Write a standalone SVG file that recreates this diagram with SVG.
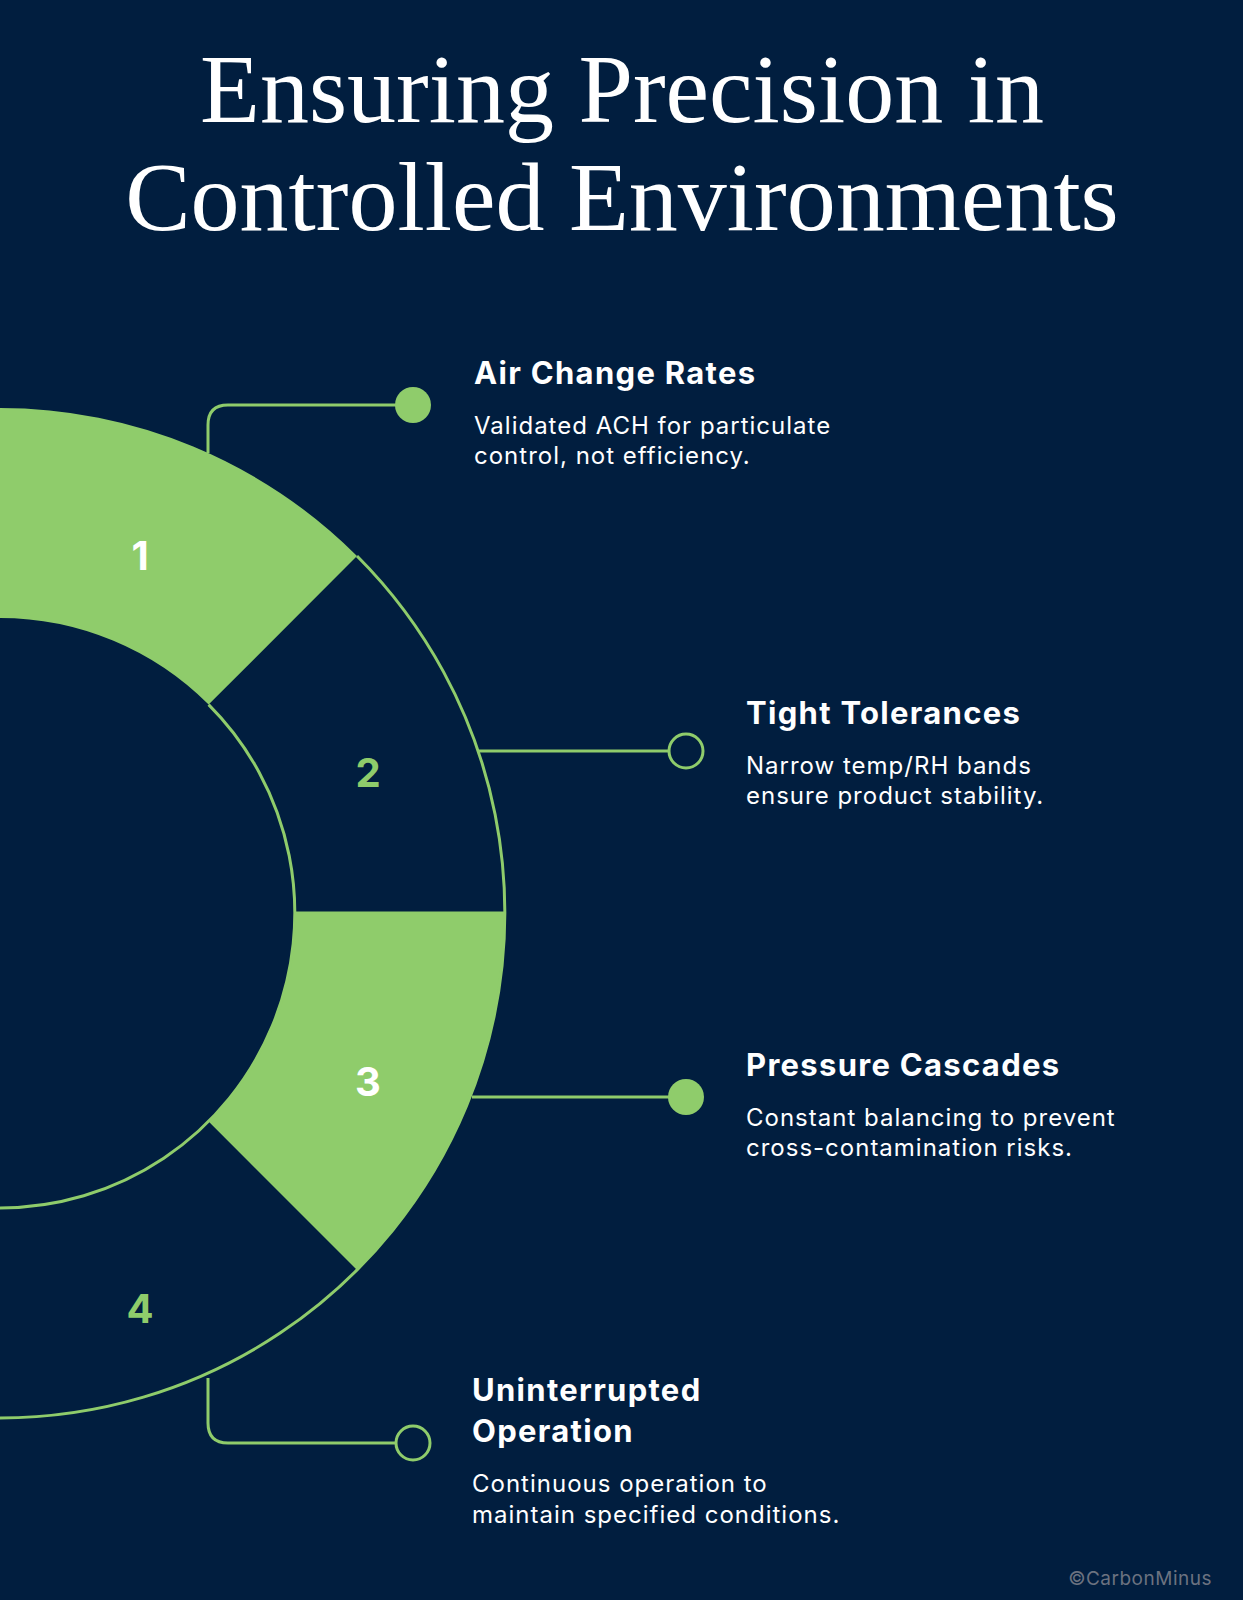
<svg xmlns="http://www.w3.org/2000/svg" width="1243" height="1600" viewBox="0 0 1243 1600">
<style>
.t{font-family:"Liberation Serif",serif;fill:#fff;font-size:98px;text-anchor:middle}
.h{font-family:Inter,"Open Sans",sans-serif;font-weight:700;fill:#fff;font-size:31px;letter-spacing:1.3px}
.b{font-family:Inter,"Open Sans",sans-serif;fill:#fff;font-size:24px;letter-spacing:1px}
.n{font-family:Inter,"Open Sans",sans-serif;font-weight:700;font-size:40px;text-anchor:middle}
.ln{fill:none;stroke:#8fcc6b;stroke-width:3}
</style>
<rect width="1243" height="1600" fill="#011e3f"/>
<text class="t" x="622" y="122">Ensuring Precision in</text>
<text class="t" x="622" y="230">Controlled Environments</text>
<g id="ring">
<path d="M0 408 A505 505 0 0 1 357 556 L208.6 704.6 A295 295 0 0 0 0 618 Z" fill="#8fcc6b"/>
<path d="M505 913 A505 505 0 0 1 357 1270 L208.6 1121.6 A295 295 0 0 0 295 913 Z" fill="#8fcc6b"/>
<path class="ln" d="M357 556 A505 505 0 0 1 0 1418"/>
<path class="ln" d="M208.6 704.6 A295 295 0 0 1 0 1208"/>
<line class="ln" x1="295" y1="913" x2="505" y2="913"/>
</g>
<g id="n1"><text class="n" x="140" y="570" fill="#fff">1</text></g>
<g id="n2"><text class="n" x="368" y="787" fill="#8fcc6b">2</text></g>
<g id="n3"><text class="n" x="368" y="1096" fill="#fff">3</text></g>
<g id="n4"><text class="n" x="140" y="1323" fill="#8fcc6b">4</text></g>
<g id="connectors">
<path class="ln" d="M208 453 V425 Q208 405 228 405 H413"/>
<circle cx="413" cy="405" r="18" fill="#8fcc6b"/>
<line class="ln" x1="478" y1="751" x2="668" y2="751"/>
<circle cx="686" cy="751" r="17" fill="none" stroke="#8fcc6b" stroke-width="3"/>
<line class="ln" x1="472" y1="1097" x2="686" y2="1097"/>
<circle cx="686" cy="1097" r="18" fill="#8fcc6b"/>
<path class="ln" d="M208 1378 V1423 Q208 1443 228 1443 H395"/>
<circle cx="413" cy="1443" r="17" fill="none" stroke="#8fcc6b" stroke-width="3"/>
</g>
<g id="t1"><text class="h" x="474" y="384">Air Change Rates</text>
<text class="b" x="474" y="434">Validated ACH for particulate</text><text class="b" x="474" y="464">control, not efficiency.</text></g>
<g id="t2"><text class="h" x="746" y="724">Tight Tolerances</text>
<text class="b" x="746" y="774">Narrow temp/RH bands</text><text class="b" x="746" y="804">ensure product stability.</text></g>
<g id="t3"><text class="h" x="746" y="1076">Pressure Cascades</text>
<text class="b" x="746" y="1126">Constant balancing to prevent</text><text class="b" x="746" y="1156">cross-contamination risks.</text></g>
<g id="t4"><text class="h" x="472" y="1401">Uninterrupted</text><text class="h" x="472" y="1442">Operation</text>
<text class="b" x="472" y="1492">Continuous operation to</text><text class="b" x="472" y="1523">maintain specified conditions.</text></g>
<text x="1212" y="1585" text-anchor="end" font-family="Inter,'Open Sans',sans-serif" font-size="19" letter-spacing="0.5" fill="#6b7280">©CarbonMinus</text>
</svg>
